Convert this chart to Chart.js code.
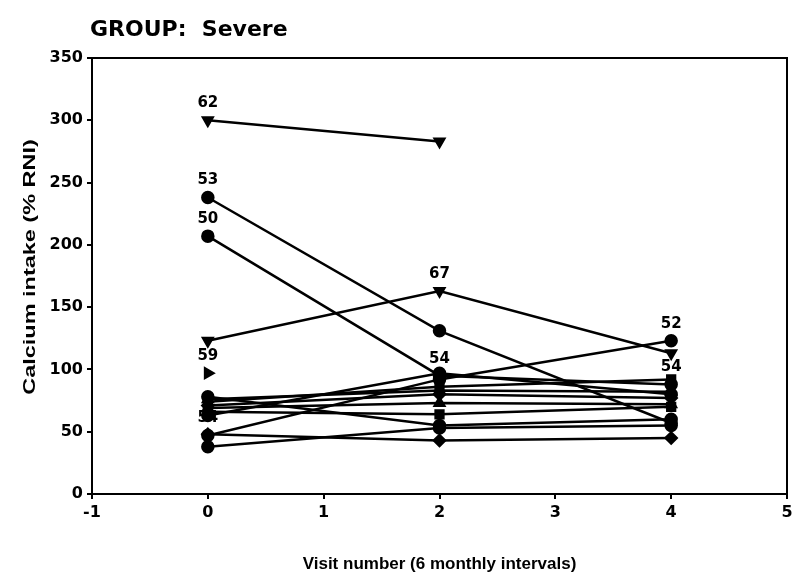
<!DOCTYPE html>
<html>
<head>
<meta charset="utf-8">
<script src="https://cdn.jsdelivr.net/npm/chart.js@4.4.1/dist/chart.umd.min.js"></script>
<style>
  html, body { margin: 0; padding: 0; background: #fff; }
  #wrap { width: 795px; height: 583px; position: relative; }
</style>
</head>
<body>
<div id="wrap"><canvas id="myLineChart"></canvas></div>
<script>
// visits (6 monthly intervals)
const visits = [0, 2, 4];
const xTicks = [-1, 0, 1, 2, 3, 4, 5];
const yTicks = [0, 50, 100, 150, 200, 250, 300, 350];

// calcium intake (% RNI) per subject, null = missing visit
const s1 = [300, 283, null];
const s2 = [238, 131, 57];
const s3 = [207, 95, 88];
const s4 = [123, 163, 113];
const s5 = [97, null, null];
const s6 = [47, 92, 123];
const s7 = [78, 55, 60];
const s8 = [76, 83, 82];
const s9 = [74, 86, 92];
const s10 = [71, 80, 77];
const s11 = [69, 73, 72];
const s12 = [66, 64, 70];
const s13 = [63, 97, 80];
const s14 = [38, 53, 55];
const s15 = [48, 43, 45];

// case labels shown above some points
const caseLabels = [
  ['62', null, null], ['53', null, null], ['50', '54', '54'], [null, '67', null],
  ['59', null, null], ['54', null, '52'], [], [], [], [], [], [], [], [], []
];

const series = [s1, s2, s3, s4, s5, s6, s7, s8, s9, s10, s11, s12, s13, s14, s15];
const markers = [
  ['triangle', 180], ['circle', 0], ['circle', 0], ['triangle', 180],
  ['triangle', 90], ['circle', 0], ['circle', 0], ['triangle', 0],
  ['rect', 0], ['rectRot', 0], ['triangle', 0], ['rect', 0],
  ['circle', 0], ['circle', 0], ['rectRot', 0]
];

const FONT = "'DejaVu Sans', sans-serif";
const ARIAL = "'Liberation Sans', Arial, sans-serif";

const datasets = series.map(function(vals, i) {
  return {
    data: vals.map(function(v, j) { return {x: visits[j], y: v}; }),
    borderColor: '#000',
    backgroundColor: '#000',
    borderWidth: 2.5,
    pointStyle: markers[i][0],
    rotation: markers[i][1],
    pointRadius: 5.5,
    spanGaps: false,
    caseLabels: caseLabels[i]
  };
});

// draws the title, y axis title, the frame and the case labels
const extras = {
  id: 'extras',
  afterDatasetsDraw(chart) {
    const ctx = chart.ctx;
    const a = chart.chartArea;
    ctx.save();
    ctx.strokeStyle = '#000';
    ctx.lineWidth = 2;
    ctx.beginPath();
    ctx.moveTo(a.left, a.top);
    ctx.lineTo(a.right, a.top);
    ctx.lineTo(a.right, a.bottom);
    ctx.stroke();

    ctx.fillStyle = '#000';
    ctx.font = 'bold 15px ' + FONT;
    ctx.textAlign = 'center';
    ctx.textBaseline = 'middle';
    chart.data.datasets.forEach(function(ds, i) {
      const meta = chart.getDatasetMeta(i);
      (ds.caseLabels || []).forEach(function(lbl, j) {
        if (!lbl || !meta.data[j]) return;
        const p = meta.data[j];
        ctx.fillText(lbl, p.x, p.y - 17);
      });
    });

    ctx.font = 'bold 22px ' + FONT;
    ctx.textAlign = 'left';
    ctx.fillText('GROUP:  Severe', 90, 30);

    // y axis title, a bit stretched like the scan
    ctx.translate(30, 267);
    ctx.rotate(-Math.PI / 2);
    ctx.scale(1.38, 1);
    ctx.font = 'bold 17px ' + ARIAL;
    ctx.textAlign = 'center';
    ctx.fillText('Calcium intake (% RNI)', 0, 0);
    ctx.restore();
  }
};

new Chart('myLineChart', {
  type: 'line',
  data: { datasets: datasets },
  plugins: [extras],
  options: {
    responsive: true,
    maintainAspectRatio: false,
    animation: false,
    layout: { padding: { top: 58, right: 0, left: 0, bottom: 0 } },
    plugins: {
      legend: { display: false },
      tooltip: { enabled: false }
    },
    scales: {
      x: {
        type: 'linear',
        min: -1, max: 5,
        afterBuildTicks: function(scale) { scale.ticks = xTicks.map(function(v) { return {value: v}; }); },
        afterFit: function(scale) { scale.height = 89; scale.paddingRight = 4; scale.paddingLeft = 0; },
        grid: { drawOnChartArea: false, color: '#000', lineWidth: 2, tickLength: 5 },
        border: { color: '#000', width: 2 },
        ticks: { color: '#000', font: { family: FONT, size: 16, weight: 'bold' }, padding: 4 },
        title: {
          display: true,
          text: 'Visit number (6 monthly intervals)',
          color: '#000',
          font: { family: ARIAL, size: 17, weight: 'bold' },
          padding: { top: 30, bottom: 8 }
        }
      },
      y: {
        min: 0, max: 350,
        afterBuildTicks: function(scale) { scale.ticks = yTicks.map(function(v) { return {value: v}; }); },
        afterFit: function(scale) { scale.width = 92; },
        grid: { drawOnChartArea: false, color: '#000', lineWidth: 2, tickLength: 5 },
        border: { color: '#000', width: 2 },
        ticks: { color: '#000', font: { family: FONT, size: 16, weight: 'bold' }, padding: 4 }
      }
    }
  }
});
</script>
</body>
</html>
